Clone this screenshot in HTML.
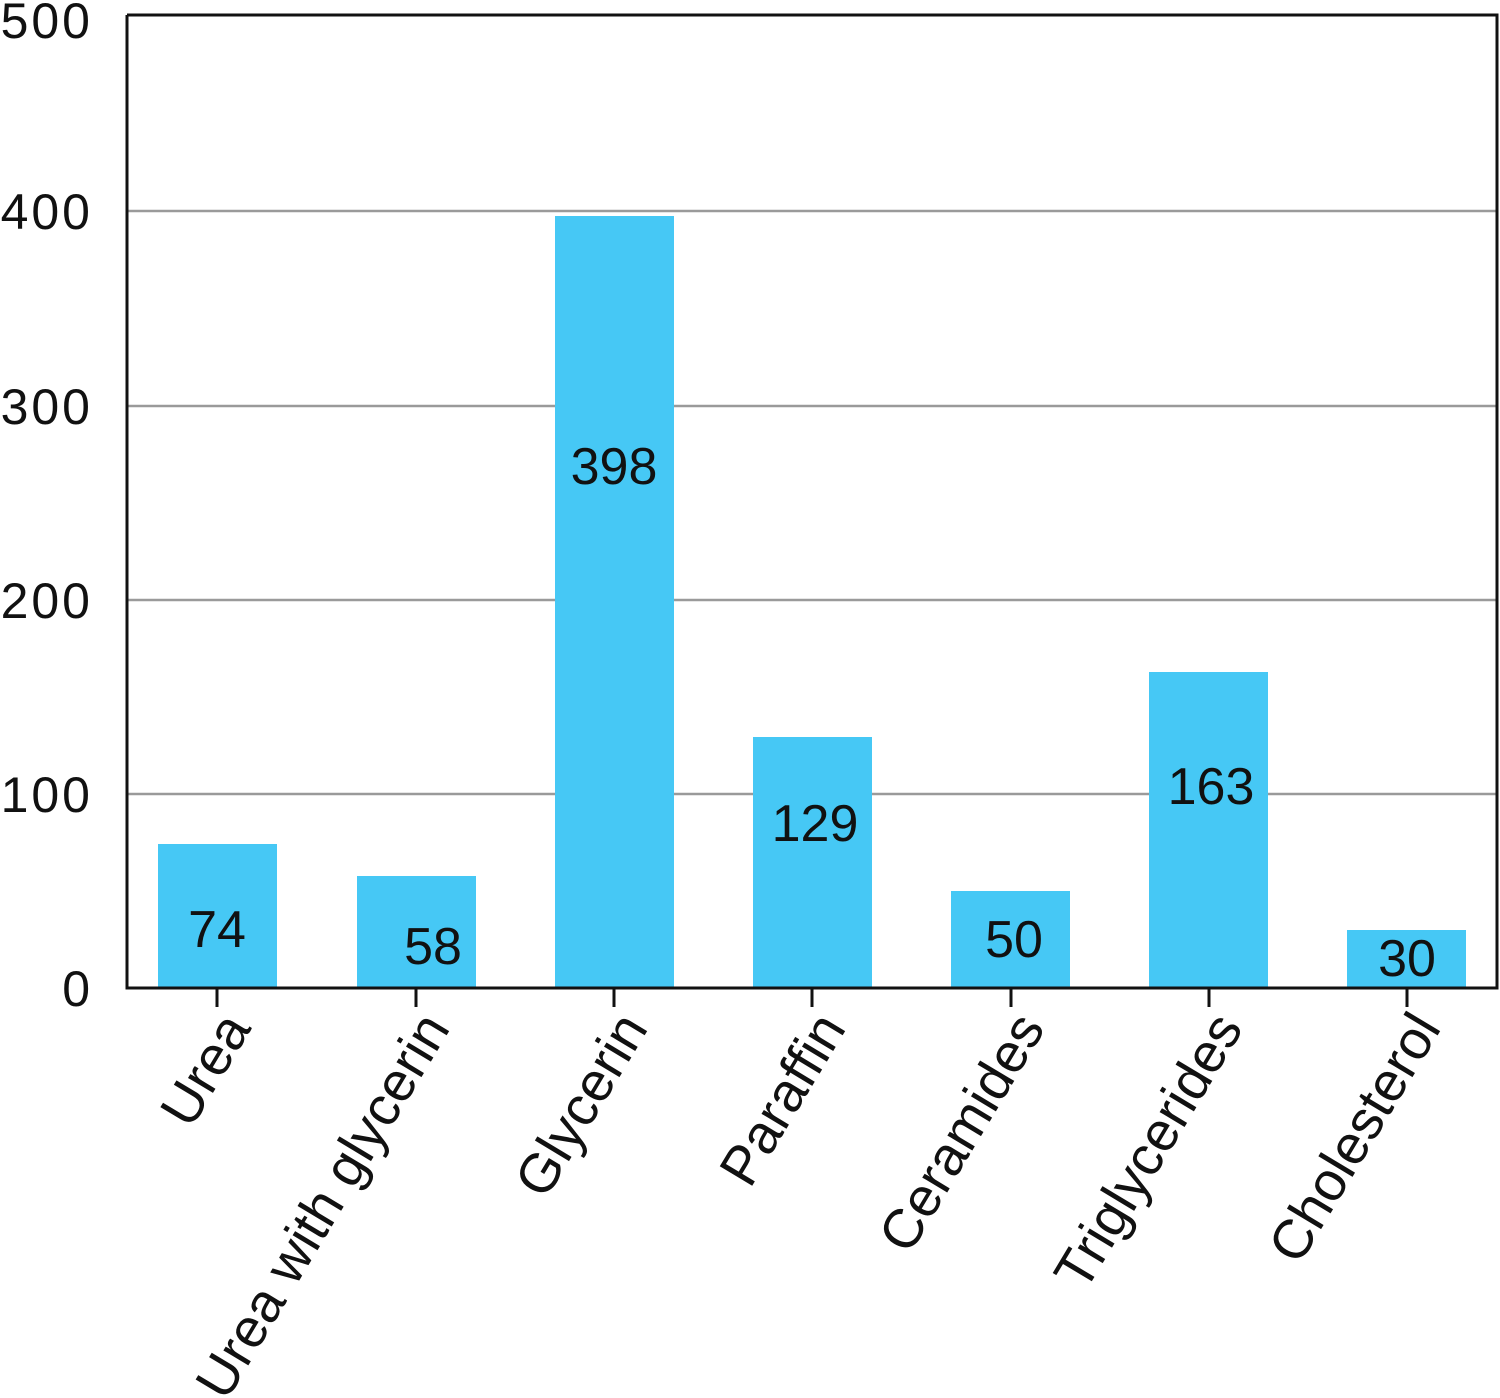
<!DOCTYPE html>
<html><head><meta charset="utf-8"><style>
html,body{margin:0;padding:0;background:#fff;}
svg{display:block;}
text{font-family:"Liberation Sans",sans-serif;fill:#111;}
</style></head><body>
<svg width="1500" height="1398" viewBox="0 0 1500 1398" xmlns="http://www.w3.org/2000/svg">
<g stroke="#9a9a9a" stroke-width="2.5">
<line x1="127" y1="211" x2="1497" y2="211"/>
<line x1="127" y1="406" x2="1497" y2="406"/>
<line x1="127" y1="600" x2="1497" y2="600"/>
<line x1="127" y1="794" x2="1497" y2="794"/>
</g>
<g fill="#46c8f5">
<rect x="158" y="844" width="119" height="144"/>
<rect x="357" y="876" width="119" height="112"/>
<rect x="555" y="216" width="119" height="772"/>
<rect x="753" y="737" width="119" height="251"/>
<rect x="951" y="891" width="119" height="97"/>
<rect x="1149" y="672" width="119" height="316"/>
<rect x="1347" y="930" width="119" height="58"/>
</g>
<g stroke="#111" stroke-width="3" fill="none">
<polyline points="127,15 127,988 1497,988 1497,15 127,15" stroke-width="3"/>
<line x1="217" y1="988" x2="217" y2="1007"/>
<line x1="416" y1="988" x2="416" y2="1007"/>
<line x1="614" y1="988" x2="614" y2="1007"/>
<line x1="812" y1="988" x2="812" y2="1007"/>
<line x1="1011" y1="988" x2="1011" y2="1007"/>
<line x1="1209" y1="988" x2="1209" y2="1007"/>
<line x1="1407" y1="988" x2="1407" y2="1007"/>
</g>
<g font-size="50" text-anchor="end" letter-spacing="3">
<text x="93" y="1006">0</text>
<text x="93" y="812">100</text>
<text x="93" y="618">200</text>
<text x="93" y="424">300</text>
<text x="93" y="229">400</text>
<text x="93" y="38">500</text>
</g>
<g font-size="52" text-anchor="middle">
<text x="217" y="947">74</text>
<text x="433" y="964">58</text>
<text x="614" y="484">398</text>
<text x="815" y="841">129</text>
<text x="1014" y="957">50</text>
<text x="1211" y="804">163</text>
<text x="1407" y="976">30</text>
</g>
<g font-size="55" text-anchor="end">
<text transform="translate(252,1028) rotate(-59)">Urea</text>
<text transform="translate(451,1028) rotate(-59)">Urea with glycerin</text>
<text transform="translate(649,1028) rotate(-59)">Glycerin</text>
<text transform="translate(847,1028) rotate(-59)">Paraffin</text>
<text transform="translate(1046,1028) rotate(-59)">Ceramides</text>
<text transform="translate(1244,1028) rotate(-59)">Triglycerides</text>
<text transform="translate(1442,1028) rotate(-59)">Cholesterol</text>
</g>
</svg>
</body></html>
